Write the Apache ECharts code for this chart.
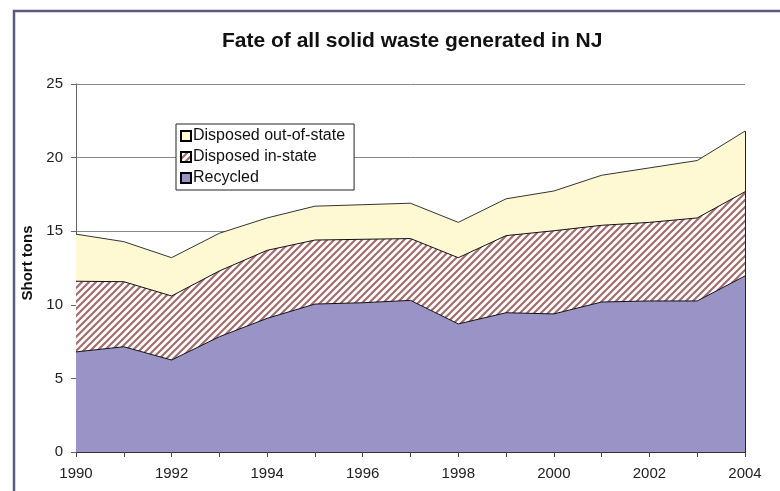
<!DOCTYPE html>
<html>
<head>
<meta charset="utf-8">
<title>Fate of all solid waste generated in NJ</title>
<script src="https://cdn.jsdelivr.net/npm/echarts@6/dist/echarts.min.js"></script>
<style>
  html, body { margin: 0; padding: 0; background: #fff; }
  #chart { width: 780px; height: 491px; }
</style>
</head>
<body>
<div id="chart"></div>
<script>
// data (short tons, millions)
const years = ['1990', '1991', '1992', '1993', '1994', '1995', '1996', '1997', '1998', '1999', '2000', '2001', '2002', '2003', '2004']
const recycled = [6.8, 7.15, 6.25, 7.83, 9.08, 10.05, 10.14, 10.3, 8.7, 9.46, 9.38, 10.19, 10.26, 10.26, 11.96]
const disposedInState = [4.8, 4.42, 4.35, 4.47, 4.62, 4.35, 4.31, 4.2, 4.5, 5.24, 5.65, 5.21, 5.34, 5.64, 5.72]
const disposedOutOfState = [3.2, 2.72, 2.6, 2.56, 2.2, 2.3, 2.35, 2.4, 2.4, 2.5, 2.7, 3.4, 3.7, 3.9, 4.12]
const yTicks = [0, 5, 10, 15, 20, 25]

// hatched fill for the in-state area
function hatch() {
  const size = 7
  const c = document.createElement('canvas')
  c.width = size
  c.height = size
  const ctx = c.getContext('2d')
  ctx.fillStyle = '#ffffff'
  ctx.fillRect(0, 0, size, size)
  ctx.strokeStyle = '#a56c6c'
  ctx.lineWidth = 2.2
  ctx.beginPath()
  ctx.moveTo(-1, size + 1); ctx.lineTo(size + 1, -1)
  ctx.moveTo(-1, 1); ctx.lineTo(1, -1)
  ctx.moveTo(size - 1, size + 1); ctx.lineTo(size + 1, size - 1)
  ctx.stroke()
  return c
}

const chart = echarts.init(document.getElementById('chart'))
const font = 'Liberation Sans, Arial, sans-serif'
const lastIdx = years.length - 1
const lastTotal = recycled[lastIdx] + disposedInState[lastIdx] + disposedOutOfState[lastIdx]

function areaSeries(name, data, fill, lineColor) {
  return {
    name: name,
    type: 'line',
    stack: 'total',
    data: data,
    symbol: 'none',
    animation: false,
    lineStyle: { color: lineColor, width: 1 },
    itemStyle: { color: fill, borderColor: '#000', borderWidth: 1 },
    areaStyle: { color: fill, opacity: 1 }
  }
}

const series = [
  areaSeries('Recycled', recycled, '#9a94c6', '#111'),
  areaSeries('Disposed in-state', disposedInState, { image: hatch(), repeat: 'repeat' }, '#111'),
  areaSeries('Disposed out-of-state', disposedOutOfState, '#fff9d3', '#333')
]
// right-hand outline of the stacked areas
series[2].markLine = {
  silent: true,
  symbol: 'none',
  label: { show: false },
  lineStyle: { color: '#222', width: 1, type: 'solid' },
  data: [[{ coord: [years[lastIdx], 0] }, { coord: [years[lastIdx], lastTotal] }]]
}

chart.setOption({
  backgroundColor: '#fff',
  textStyle: { fontFamily: font },
  title: {
    text: 'Fate of all solid waste generated in NJ',
    left: 217,
    top: 26,
    textStyle: { fontFamily: font, fontSize: 21, fontWeight: 'bold', color: '#111' }
  },
  legend: {
    data: ['Disposed out-of-state', 'Disposed in-state', 'Recycled'],
    orient: 'vertical',
    left: 176,
    top: 124,
    padding: [4, 9, 4, 4],
    itemGap: 5,
    itemWidth: 10,
    itemHeight: 10,
    icon: 'rect',
    backgroundColor: '#fff',
    borderColor: '#222',
    borderWidth: 1,
    borderRadius: 0,
    textStyle: { fontFamily: font, fontSize: 16, color: '#111', padding: [0, 0, 0, -3] }
  },
  grid: { left: 76, right: 35, top: 84, bottom: 39 },
  xAxis: {
    type: 'category',
    data: years,
    boundaryGap: false,
    axisLine: { lineStyle: { color: '#333' } },
    axisTick: { interval: 0, length: 5, lineStyle: { color: '#444' } },
    axisLabel: { interval: 1, fontFamily: font, fontSize: 15, color: '#222', margin: 14 },
    splitLine: { show: false }
  },
  yAxis: {
    type: 'value',
    min: yTicks[0],
    max: yTicks[yTicks.length - 1],
    interval: 5,
    name: 'Short tons',
    nameLocation: 'middle',
    nameGap: 41,
    nameTextStyle: { fontFamily: font, fontSize: 15, fontWeight: 'bold', color: '#111', padding: [0, 0, 0, 10] },
    axisLine: { show: true, lineStyle: { color: '#666' } },
    axisTick: { show: true, length: 5, lineStyle: { color: '#666' } },
    axisLabel: { fontFamily: font, fontSize: 15, color: '#222', margin: 13 },
    splitLine: { show: true, lineStyle: { color: '#888', width: 1 } }
  },
  graphic: [
    {
      type: 'polyline',
      silent: true,
      shape: { points: [[14, 500], [14, 11], [790, 11]] },
      style: { stroke: '#5a5884', lineWidth: 2.5, fill: null }
    }
  ],
  series: series
})
</script>
</body>
</html>
